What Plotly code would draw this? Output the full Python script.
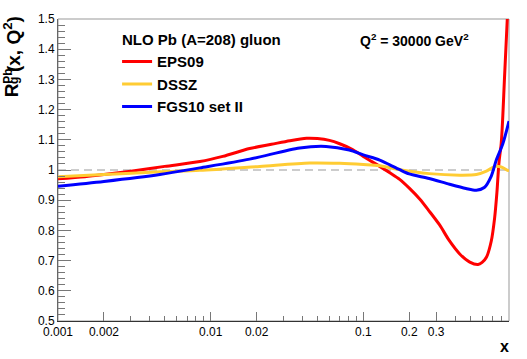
import plotly.graph_objects as go

# EPS09 (red)
eps09_x = [0.001, 0.0015, 0.002, 0.003, 0.005, 0.0085, 0.012, 0.018, 0.025, 0.033,
           0.0425, 0.05, 0.06, 0.07, 0.085, 0.1, 0.128, 0.15, 0.173, 0.2, 0.234,
           0.27, 0.316, 0.367, 0.428, 0.498, 0.564, 0.6, 0.64, 0.689, 0.724,
           0.75, 0.773, 0.8, 0.82, 0.84, 0.877]
eps09_y = [0.971, 0.978, 0.985, 0.996, 1.012, 1.028, 1.045, 1.071, 1.085, 1.097,
           1.105, 1.104, 1.098, 1.087, 1.068, 1.045, 1.012, 0.99, 0.969, 0.94, 0.904,
           0.864, 0.818, 0.765, 0.722, 0.695, 0.687, 0.694, 0.711, 0.765, 0.84,
           0.926, 1.023, 1.087, 1.18, 1.3, 1.5]

# DSSZ (yellow)
dssz_x = [0.001, 0.002, 0.00465, 0.0085, 0.021, 0.0446, 0.07, 0.1, 0.128, 0.173,
          0.27, 0.428, 0.55, 0.64, 0.724, 0.8, 0.88, 0.9]
dssz_y = [0.978, 0.985, 0.994, 0.999, 1.012, 1.023, 1.022, 1.018, 1.014, 1.001,
          0.988, 0.983, 0.985, 0.996, 1.012, 1.01, 0.999, 0.998]

# FGS10 set II (blue)
fgs_x = [0.001, 0.002, 0.00465, 0.0085, 0.018, 0.0383, 0.057, 0.081, 0.1, 0.128,
         0.149, 0.173, 0.2, 0.27, 0.367, 0.47, 0.55, 0.62, 0.689, 0.743, 0.82, 0.9]
fgs_y = [0.946, 0.962, 0.985, 1.007, 1.036, 1.073, 1.078, 1.066, 1.05, 1.033,
         1.017, 1.001, 0.987, 0.972, 0.953, 0.939, 0.933, 0.942, 0.98, 1.033, 1.087, 1.162]

x_ticks = [0.001, 0.002, 0.01, 0.02, 0.1, 0.2, 0.3]
x_labels = ["0.001", "0.002", "0.01", "0.02", "0.1", "0.2", "0.3"]
x_minor = [m * d for d in (0.001, 0.01, 0.1) for m in range(3, 10) if m * d < 0.9]

FONT = "Liberation Sans, Arial, Helvetica, sans-serif"

fig = go.Figure()
for name, xs, ys, col in [("EPS09", eps09_x, eps09_y, "#ff0000"),
                          ("DSSZ", dssz_x, dssz_y, "#ffcc33"),
                          ("FGS10 set II", fgs_x, fgs_y, "#0000ff")]:
    fig.add_trace(go.Scatter(x=xs, y=ys, mode="lines", name=name,
                             line=dict(color=col, width=3, shape="spline", smoothing=0.8)))

fig.update_layout(
    width=527, height=359,
    margin=dict(l=58, r=18, t=12, b=38),
    paper_bgcolor="white", plot_bgcolor="white",
    font=dict(family=FONT, size=12, color="black"),
    showlegend=True,
    legend=dict(x=0.131, y=0.913, xanchor="left", yanchor="top",
                bgcolor="rgba(0,0,0,0)",
                font=dict(size=15, family=FONT, color="black", weight="bold")),
    xaxis=dict(type="log", range=[-3, -0.0458], tickvals=x_ticks, ticktext=x_labels,
               ticks="inside", ticklen=9, tickcolor="#777777",
               minor=dict(tickvals=x_minor, ticks="inside", ticklen=5, tickcolor="#777777"),
               showline=True, linecolor="#333333", showgrid=False, zeroline=False),
    yaxis=dict(range=[0.5, 1.5], dtick=0.1, tick0=0.5,
               ticks="inside", ticklen=13, tickcolor="#777777",
               minor=dict(dtick=0.02, ticks="inside", ticklen=7, tickcolor="#777777"),
               showline=True, linecolor="#666666", showgrid=False, zeroline=False),
    shapes=[
        dict(type="rect", xref="paper", yref="paper", x0=0, x1=1, y0=0, y1=1,
             line=dict(color="#999999", width=1), layer="below"),
        dict(type="line", xref="paper", yref="y", x0=0, x1=1, y0=1, y1=1,
             line=dict(color="#999999", width=1, dash="8px,5px"), layer="below"),
    ],
)

annots = [
    dict(text="<b>R</b>", x=-0.104, y=0.764, size=19),
    dict(text="<b>Pb</b>", x=-0.111, y=0.812, size=12),
    dict(text="<b>g</b>", x=-0.0976, y=0.798, size=12),
    dict(text="<b>(x, Q<sup>2</sup>)</b>", x=-0.102, y=0.917, size=19),
]
for a in annots:
    fig.add_annotation(text=a["text"], x=a["x"], y=a["y"], xref="paper", yref="paper",
                       textangle=-90, showarrow=False, xanchor="center", yanchor="middle",
                       font=dict(size=a["size"], family=FONT, color="black"))

fig.add_annotation(text="<b>NLO Pb (A=208) gluon</b>", x=0.1375, y=0.932,
                   xref="paper", yref="paper", xanchor="left", yanchor="middle",
                   showarrow=False, font=dict(size=15, family=FONT, color="black"))
fig.add_annotation(text="<b>Q<sup>2</sup> = 30000 GeV<sup>2</sup></b>", x=0.665, y=0.930,
                   xref="paper", yref="paper", xanchor="left", yanchor="middle",
                   showarrow=False, font=dict(size=14, family=FONT, color="black"))
fig.add_annotation(text="<b>x</b>", x=1.004, y=-0.084, xref="paper", yref="paper",
                   xanchor="right", yanchor="middle", showarrow=False,
                   font=dict(size=16, family=FONT, color="black"))

# the default page body has an 8px margin; remove it so the figure sits at the origin
fig.write_html("out.html", config={"displayModeBar": False},
               post_script="document.body.style.margin='0';")
